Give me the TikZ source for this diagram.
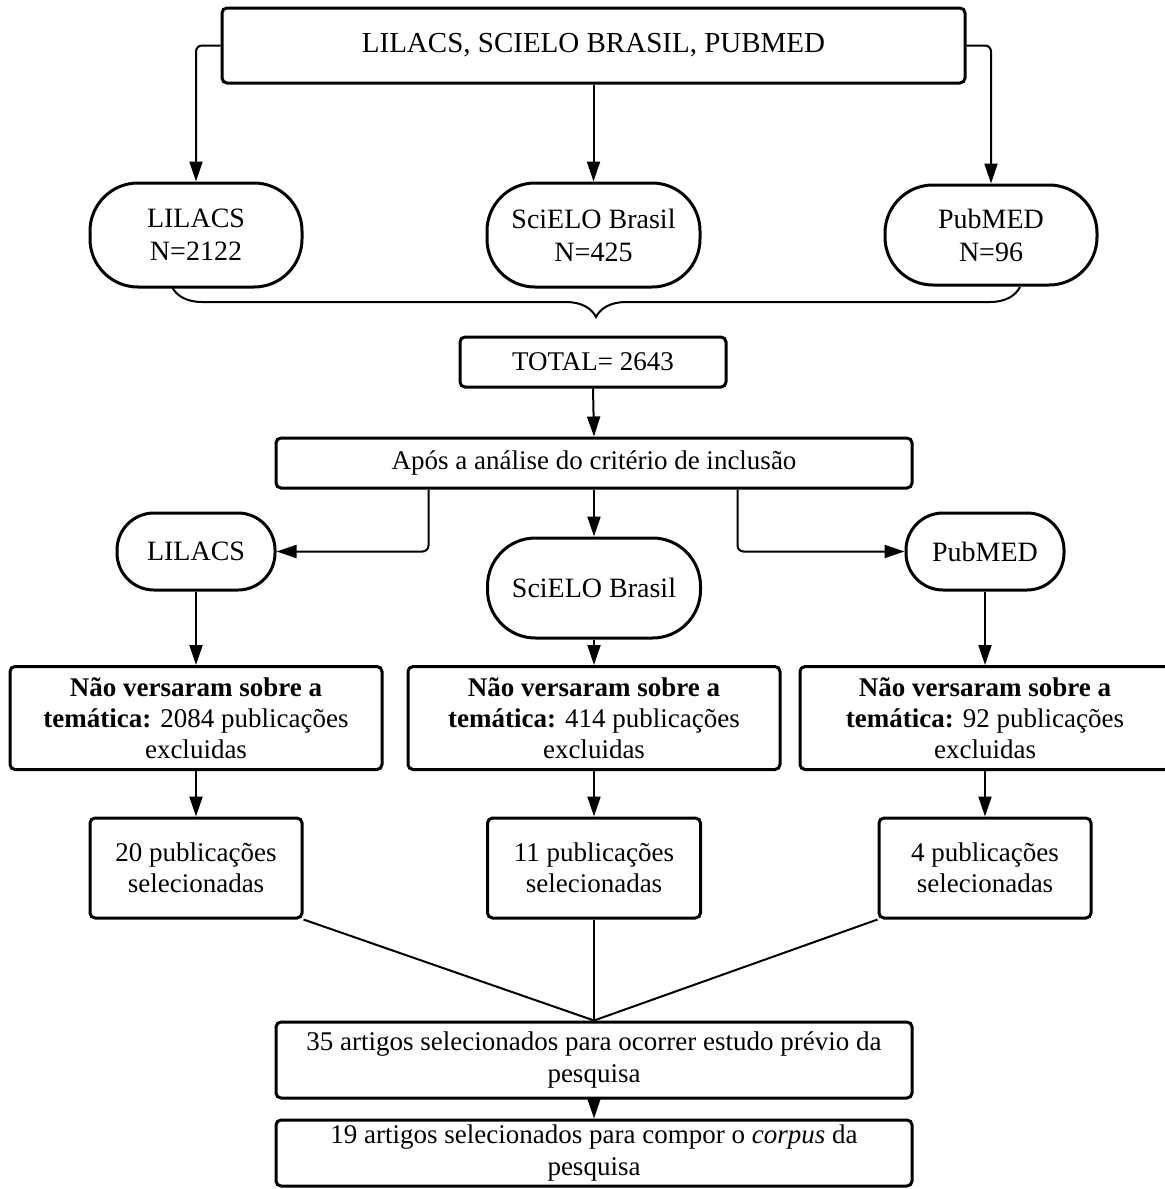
\documentclass[tikz,border=0pt]{standalone}
\usepackage{fontspec}
\setmainfont{Liberation Serif}
\usetikzlibrary{arrows.meta}
\usetikzlibrary{decorations.pathreplacing}

\tikzset{
  rbox/.style={draw, line width=1.5pt, rounded corners=2.5pt, inner sep=0pt, align=center,
    font=\fontsize{13.5}{15.5}\selectfont},
  pill/.style={rbox, rounded corners=24pt, font=\fontsize{14}{16.5}\selectfont},
  arrowline/.style={line width=1pt, rounded corners=3pt, -{Triangle[length=10pt,width=6.5pt]}},
  plainline/.style={line width=1pt}
}

\begin{document}
\begin{tikzpicture}[x=0.5pt,y=-0.5pt]
\useasboundingbox (0,0) rectangle (1165,1189);
% bases de dados
\node[rbox, minimum width=371.5pt, minimum height=37.5pt, font=\fontsize{14.5}{16}\selectfont] (bases) at (593.5,45.5) {LILACS, SCIELO BRASIL, PUBMED};
\node[pill, minimum width=106pt, minimum height=52pt] (lil1) at (196,235) {LILACS\\N=2122};
\node[pill, minimum width=106.5pt, minimum height=52pt] (sci1) at (593.5,235) {SciELO Brasil\\N=425};
\node[pill, minimum width=106pt, minimum height=50pt] (pub1) at (991,235) {PubMED\\N=96};
\draw[arrowline] (bases.west) -| (lil1.north);
\draw[arrowline] (bases.south) -- (sci1.north);
\draw[arrowline] (bases.east) -| (pub1.north);
% chave e total
\coordinate (braceR) at (1020,287);
\coordinate (braceL) at (172,287);
\draw[plainline, decorate, decoration={brace, amplitude=15pt}] (braceR) -- (braceL);
\node[rbox, minimum width=133pt, minimum height=25pt] (total) at (593,362) {TOTAL= 2643};
\node[rbox, minimum width=318pt, minimum height=25pt] (apos) at (594,463) {Após a análise do critério de inclusão};
\draw[arrowline] (total.south) -- (apos.north);
% apos a inclusao
\node[pill, rounded corners=18.5pt, minimum width=79pt, minimum height=38.5pt] (lil2) at (196,551.5) {LILACS};
\node[pill, minimum width=106.5pt, minimum height=50pt] (sci2) at (594,588) {SciELO Brasil};
\node[pill, rounded corners=18.5pt, minimum width=79pt, minimum height=38.5pt] (pub2) at (985,551.5) {PubMED};
\draw[arrowline] ([xshift=77pt]apos.south west) |- (lil2.east);
\draw[arrowline] (apos.south) -- (sci2.north);
\draw[arrowline] ([xshift=-88pt]apos.south east) |- (pub2.west);
% excluidas
\node[rbox, minimum width=186pt, minimum height=51.5pt] (exc1) at (196,718) {\textbf{Não versaram sobre a}\\\textbf{temática:} 2084 publicações\\excluidas};
\node[rbox, minimum width=186pt, minimum height=51.5pt] (exc2) at (594,718) {\textbf{Não versaram sobre a}\\\textbf{temática:} 414 publicações\\excluidas};
\node[rbox, minimum width=185pt, minimum height=51.5pt] (exc3) at (985,718) {\textbf{Não versaram sobre a}\\\textbf{temática:} 92 publicações\\excluidas};
\draw[arrowline] (lil2.south) -- (exc1.north);
\draw[arrowline] (sci2.south) -- (exc2.north);
\draw[arrowline] (pub2.south) -- (exc3.north);
% selecionadas
\node[rbox, minimum width=106pt, minimum height=50pt] (sel1) at (196,868) {20 publicações\\selecionadas};
\node[rbox, minimum width=106.5pt, minimum height=50pt] (sel2) at (594,868) {11 publicações\\selecionadas};
\node[rbox, minimum width=106pt, minimum height=50pt] (sel3) at (985,868) {4 publicações\\selecionadas};
\draw[arrowline] (exc1.south) -- (sel1.north);
\draw[arrowline] (exc2.south) -- (sel2.north);
\draw[arrowline] (exc3.south) -- (sel3.north);
% resultado
\node[rbox, minimum width=318pt, minimum height=38pt, font=\fontsize{13.5}{16}\selectfont] (art35) at (594,1060) {35 artigos selecionados para ocorrer estudo prévio da\\pesquisa};
\node[rbox, minimum width=318pt, minimum height=33pt, font=\fontsize{13.5}{16}\selectfont] (art19) at (594,1153) {19 artigos selecionados para compor o \textit{corpus} da\\pesquisa};
\draw[plainline] (sel1.south east) -- (art35.north);
\draw[plainline] (sel2.south) -- (art35.north);
\draw[plainline] (sel3.south west) -- (art35.north);
\draw[arrowline] (art35.south) -- (art19.north);
\end{tikzpicture}
\end{document}
